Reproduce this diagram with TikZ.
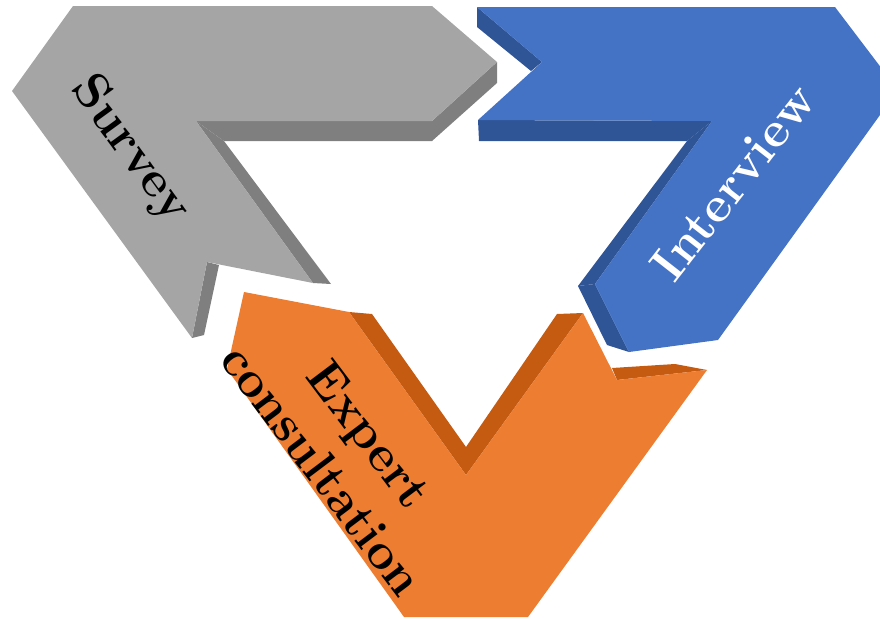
\documentclass[tikz,border=0pt]{standalone}
\usepackage{tikz}
\definecolor{grayF}{HTML}{A5A5A5}
\definecolor{grayD}{HTML}{7F7F7F}
\definecolor{blueF}{HTML}{4472C4}
\definecolor{blueD}{HTML}{2F5597}
\definecolor{orangeF}{HTML}{ED7D31}
\definecolor{orangeD}{HTML}{C55A11}
\tikzset{
  lbl/.style={font=\fontsize{25}{29.5}\selectfont\bfseries, inner sep=0pt, align=center},
}
\begin{document}
\begin{tikzpicture}[x=0.5pt,y=-0.5pt]
\path[use as bounding box] (0,0) rectangle (880,618);
\clip (0,0) rectangle (880,618);
% gray
\fill[grayD] (432,121) -- (497,62) -- (497,83) -- (432,141) -- cycle;
\fill[grayD] (196,121) -- (432,121) -- (432,141) -- (224,141) -- cycle;
\fill[grayD] (196,121) -- (224,141) -- (331,284) -- (313,283) -- cycle;
\fill[grayD] (207,262) -- (219,265) -- (204,335) -- (192,338) -- cycle;
\fill[grayF] (73,6) -- (432,6) -- (497,62) -- (432,121) -- (196,121) -- (313,283) -- (207,262) -- (192,338) -- (12,91) -- cycle;
% blue
\fill[blueD] (477,7) -- (542,62) -- (531,71) -- (477,27) -- cycle;
\fill[blueD] (478,120) -- (712,121) -- (687,141) -- (479,141) -- cycle;
\fill[blueD] (712,121) -- (595,284) -- (578,286) -- (687,141) -- cycle;
\fill[blueD] (595,284) -- (629,352) -- (607,345) -- (578,286) -- cycle;
\fill[blueF] (477,7) -- (835,7) -- (898,90) -- (718,340) -- (629,352) -- (595,284) -- (712,121) -- (478,120) -- (542,62) -- cycle;
% orange
\fill[orangeD] (349,312) -- (372,314) -- (466,447) -- (466,475) -- cycle;
\fill[orangeD] (466,447) -- (557,314) -- (583,313) -- (466,475) -- cycle;
\fill[orangeD] (612,368) -- (675,364) -- (707,370) -- (617,380) -- cycle;
\fill[orangeF] (244,292) -- (349,312) -- (466,475) -- (583,313) -- (617,380) -- (707,370) -- (528,617) -- (404,617) -- (227,369) -- cycle;
% labels
\node[lbl, rotate=-54] (survey) at (130,150) {Survey};
\node[lbl, rotate=52, text=white] (interview) at (733,182) {Interview};
\node[lbl, rotate=-53] (expert) at (346,452) {Expert\\consultation};
\end{tikzpicture}
\end{document}
